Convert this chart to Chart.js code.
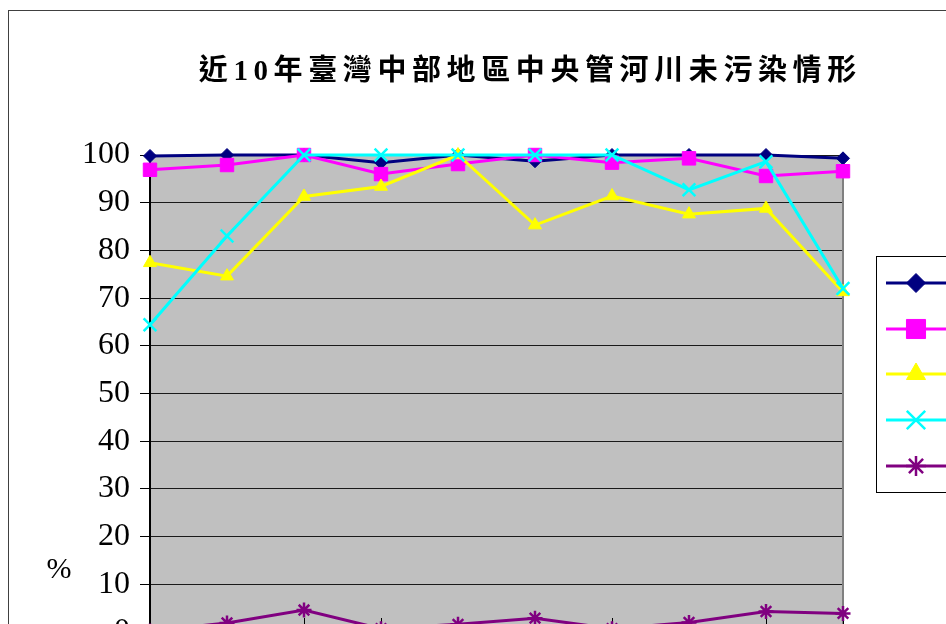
<!DOCTYPE html>
<html>
<head>
<meta charset="utf-8">
<title>近10年臺灣中部地區中央管河川未污染情形</title>
<script src="https://cdn.jsdelivr.net/npm/chart.js@4.4.0/dist/chart.umd.min.js"></script>
<style>
  html, body { margin: 0; padding: 0; background: #fff; overflow: hidden; width: 946px; height: 624px; }
  #frame { position: absolute; left: 8px; top: 10px; border: 1px solid #404040; }
  canvas { display: block; }
</style>
</head>
<body>
<div id="frame"><canvas id="riverChart" width="1100" height="720"></canvas></div>
<script>
// chart data (percent of river length not polluted)
const chartTitle = '近10年臺灣中部地區中央管河川未污染情形';
const years = ['86年', '87年', '88年', '89年', '90年', '91年', '92年', '93年', '94年', '95年'];
const riverNames = ['大安溪', '大甲溪', '烏溪', '濁水溪', '北港溪'];
const yTicks = [0, 10, 20, 30, 40, 50, 60, 70, 80, 90, 100];

const daAn = [99.8, 100, 100, 98.4, 100, 98.7, 100, 100, 100, 99.3];
const daJia = [96.9, 97.9, 100, 96.0, 98.1, 100, 98.4, 99.3, 95.6, 96.6];
const wuXi = [77.4, 74.6, 91.3, 93.4, 100, 85.3, 91.4, 87.6, 88.8, 71.3];
const zhuoShui = [64.4, 83.0, 100, 100, 100, 100, 100, 92.7, 98.6, 72.0];
const beiGang = [0.2, 1.9, 4.6, 0.7, 1.6, 2.9, 0.7, 2.0, 4.3, 3.9];

const seriesValues = [daAn, daJia, wuXi, zhuoShui, beiGang];
const colors = ['#000080', '#FF00FF', '#FFFF00', '#00FFFF', '#800080'];
const markers = ['rectRot', 'rect', 'triangle', 'crossRot', 'star'];
const markerSize = [6.5, 9.5, 7.5, 9, 7.5];
const legendMarkerSize = [9.5, 13.5, 11, 13, 10];

const serif = '"Liberation Serif", "Times New Roman", serif';

const datasets = seriesValues.map((vals, i) => ({
  label: riverNames[i],
  data: vals,
  borderColor: colors[i],
  backgroundColor: colors[i],
  borderWidth: 3,
  tension: 0,
  pointStyle: markers[i],
  pointRadius: markerSize[i],
  pointHoverRadius: markerSize[i],
  pointBackgroundColor: colors[i],
  pointBorderColor: colors[i],
  pointBorderWidth: (markers[i] === 'crossRot' || markers[i] === 'star') ? 2.5 : 1,
  clip: false,
  order: seriesValues.length - i
}));

const plotDecor = {
  id: 'plotDecor',
  beforeDraw(chart) {
    const { ctx, chartArea: a } = chart;
    ctx.save();
    ctx.fillStyle = '#C0C0C0';
    ctx.fillRect(a.left, a.top, a.right - a.left, a.bottom - a.top);
    ctx.restore();
  },
  beforeDatasetsDraw(chart) {
    const { ctx, chartArea: a } = chart;
    const x = chart.scales.x;
    ctx.save();
    // right border of the plot
    ctx.strokeStyle = '#808080';
    ctx.lineWidth = 2;
    ctx.beginPath();
    ctx.moveTo(a.right, a.top);
    ctx.lineTo(a.right, a.bottom);
    ctx.stroke();
    // category tick marks crossing into the plot
    ctx.strokeStyle = '#000';
    ctx.lineWidth = 1;
    x.ticks.forEach((t, i) => {
      const px = Math.round(x.getPixelForTick(i)) + 0.5;
      ctx.beginPath();
      ctx.moveTo(px, a.bottom - 14);
      ctx.lineTo(px, a.bottom);
      ctx.stroke();
    });
    ctx.restore();
  },
  afterDraw(chart) {
    const { ctx } = chart;
    ctx.save();
    // title
    ctx.font = 'bold 29px ' + serif + ', "Noto Sans CJK TC"';
    ctx.letterSpacing = '5.6px';
    ctx.fillStyle = '#000';
    ctx.textBaseline = 'middle';
    ctx.textAlign = 'left';
    const w = ctx.measureText(chartTitle).width - 5.6;
    ctx.fillText(chartTitle, 518.5 - w / 2, 62);
    ctx.letterSpacing = '0px';
    // axis unit
    ctx.font = '30px ' + serif;
    ctx.textAlign = 'center';
    ctx.fillText('%', 50, 559);
    // legend box
    const bx = 867, by = 245, bw = 200, bh = 236;
    ctx.fillStyle = '#fff';
    ctx.fillRect(bx, by, bw, bh);
    ctx.strokeStyle = '#000';
    ctx.lineWidth = 1;
    ctx.strokeRect(bx + 0.5, by + 0.5, bw, bh);
    const rows = [272, 318, 363, 409, 455];
    chart.data.datasets.forEach((ds, i) => {
      const y = rows[i];
      ctx.strokeStyle = colors[i];
      ctx.lineWidth = 3;
      ctx.beginPath();
      ctx.moveTo(877, y);
      ctx.lineTo(937, y);
      ctx.stroke();
      ctx.fillStyle = colors[i];
      ctx.lineWidth = ds.pointBorderWidth;
      Chart.helpers.drawPoint(ctx, {
        pointStyle: markers[i],
        radius: legendMarkerSize[i],
        rotation: 0,
        borderWidth: ds.pointBorderWidth
      }, 907, y);
      ctx.fillStyle = '#000';
      ctx.font = '24px ' + serif + ', "Noto Sans CJK TC"';
      ctx.textAlign = 'left';
      ctx.fillText(ds.label, 947, y);
    });
    ctx.restore();
  }
};

new Chart(document.getElementById('riverChart'), {
  type: 'line',
  data: { labels: years, datasets },
  options: {
    responsive: false,
    animation: false,
    layout: { padding: { left: 0, top: 144, right: 266, bottom: 59 } },
    plugins: {
      legend: { display: false },
      title: { display: false },
      tooltip: { enabled: false }
    },
    scales: {
      x: {
        offset: false,
        grid: { display: false },
        border: { color: '#000', width: 2 },
        ticks: { font: { family: serif, size: 28 }, color: '#000', maxRotation: 0 },
        afterFit(scale) { scale.height = 40; }
      },
      y: {
        min: 0,
        max: 100,
        afterBuildTicks(scale) { scale.ticks = yTicks.map(v => ({ value: v })); },
        ticks: { font: { family: serif, size: 32 }, color: '#000', padding: 10 },
        grid: { color: '#1a1a1a', lineWidth: 1, tickLength: 10, tickColor: '#000' },
        border: { color: '#000', width: 2 },
        afterFit(scale) { scale.width = 141; }
      }
    }
  },
  plugins: [plotDecor]
});
</script>
</body>
</html>
